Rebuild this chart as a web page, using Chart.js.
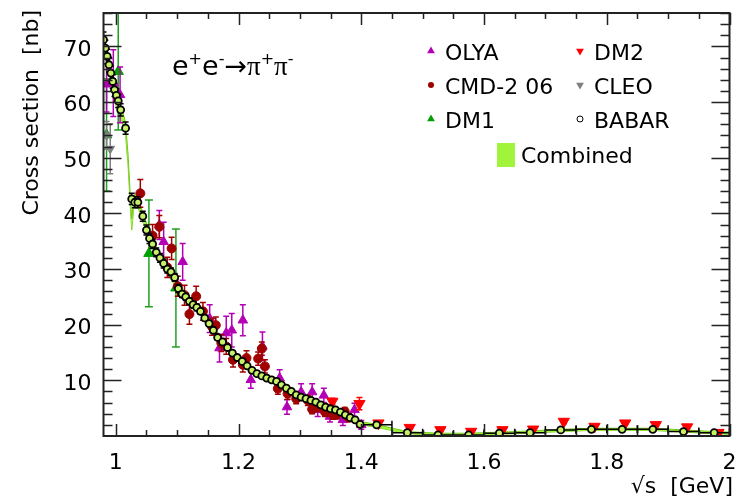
<!DOCTYPE html>
<html>
<head>
<meta charset="utf-8">
<title>e+e- -> pi+pi-</title>
<script src="https://cdn.jsdelivr.net/npm/chart.js@4.4.1/dist/chart.umd.min.js"></script>
<style>
	html, body { margin: 0; padding: 0; background: #fff; }
	#caixa { width: 737px; height: 499px; }
</style>
</head>
<body>
<div id="caixa"><canvas id="graficoSecaoChoque"></canvas></div>
<script>
// sqrt(s) em GeV, secao de choque em nb, erros simetricos em nb

var olyaX   = [0.985, 0.996, 1.007, 1.071, 1.078, 1.109, 1.153, 1.169, 1.180, 1.189, 1.207, 1.220, 1.239, 1.267, 1.279, 1.302, 1.320, 1.329, 1.339, 1.349, 1.370, 1.389, 1.400];
var olyaY   = [63.2, 63.4, 61.3, 37.9, 34.9, 31.3, 21.1, 15.8, 18.5, 19.0, 20.8, 10.1, 16.1, 10.4, 5.2, 7.9, 7.9, 4.7, 7.3, 3.5, 2.9, 4.7, 2.0];
var olyaErr = [5.0, 6.0, 5.0, 2.6, 3.5, 3.3, 2.5, 2.5, 3.0, 3.0, 2.8, 1.5, 2.6, 1.5, 1.3, 1.5, 1.5, 1.2, 1.3, 1.0, 1.0, 1.2, 0.8];

var cmdX   = [1.040, 1.060, 1.071, 1.084, 1.091, 1.101, 1.112, 1.120, 1.131, 1.142, 1.157, 1.163, 1.172, 1.180, 1.191, 1.207, 1.213, 1.232, 1.238, 1.243, 1.264, 1.280, 1.294, 1.313, 1.320, 1.329, 1.341, 1.354, 1.360, 1.373, 1.380];
var cmdY   = [43.6, 36.0, 37.6, 30.3, 33.7, 26.9, 25.3, 21.9, 25.1, 22.4, 19.6, 19.9, 16.7, 16.1, 13.7, 12.8, 14.0, 13.9, 15.7, 12.5, 8.5, 7.6, 6.7, 6.4, 4.8, 5.2, 4.3, 3.8, 3.8, 4.4, 3.3];
var cmdErr = [2.5, 2.0, 2.0, 1.8, 2.0, 1.8, 1.8, 1.8, 1.8, 1.6, 1.5, 1.5, 1.5, 1.4, 1.3, 1.3, 1.3, 1.2, 1.2, 1.2, 1.0, 1.0, 0.9, 0.9, 0.8, 0.8, 0.8, 0.8, 0.7, 0.7, 0.7];

var dm1X   = [0.985, 1.004, 1.054, 1.098];
var dm1Y   = [54.1, 65.5, 32.8, 26.6];
var dm1Err = [10.1, 10.5, 9.6, 10.6];

var dm2X   = [1.353, 1.397, 1.428, 1.479, 1.529, 1.579, 1.630, 1.680, 1.730, 1.780, 1.830, 1.880, 1.931, 1.982];
var dm2Y   = [6.2, 5.8, 2.3, 1.5, 1.1, 0.8, 1.1, 1.2, 2.6, 1.7, 2.3, 2.0, 1.6, 0.6];
var dm2Err = [0.6, 1.1, 0.4, 0.3, 0.3, 0.3, 0.3, 0.3, 0.4, 0.3, 0.3, 0.3, 0.3, 0.3];

var cleoX   = [0.985, 0.991];
var cleoY   = [54.0, 51.6];
var cleoErr = [2.5, 4.5];

var babarX = [0.980, 0.983, 0.986, 0.989, 0.992, 0.995, 0.998, 1.001, 1.004, 1.008, 1.016, 1.026, 1.031, 1.036, 1.044, 1.050, 1.055, 1.060, 1.066, 1.072,
	1.078, 1.084, 1.090, 1.096, 1.102, 1.108, 1.114, 1.120, 1.126, 1.132, 1.138, 1.145, 1.152, 1.159, 1.166, 1.174, 1.182, 1.190, 1.198, 1.206,
	1.214, 1.222, 1.230, 1.238, 1.246, 1.254, 1.262, 1.270, 1.278, 1.286, 1.294, 1.302, 1.310, 1.318, 1.326, 1.334, 1.342, 1.350, 1.358, 1.366,
	1.374, 1.382, 1.390, 1.398];
var babarY = [71.2, 69.7, 68.2, 66.7, 65.2, 63.7, 62.2, 61.2, 60.2, 58.6, 55.3, 42.6, 42.0, 42.0, 39.5, 37.0, 35.5, 34.5, 33.0, 32.0,
	31.0, 30.0, 29.5, 28.5, 26.5, 25.5, 25.0, 24.2, 23.6, 23.1, 22.4, 21.2, 20.2, 19.0, 17.7, 16.9, 15.9, 14.9, 14.1, 13.4,
	12.6, 11.8, 11.2, 10.8, 10.4, 10.1, 9.8, 9.2, 8.6, 8.0, 7.4, 7.0, 6.7, 6.4, 6.1, 5.6, 5.2, 4.9, 4.7, 4.3,
	3.8, 3.3, 2.9, 2.1];
var babarErr = [1.4, 1.4, 1.3, 1.3, 1.3, 1.2, 1.2, 1.2, 1.2, 1.1, 1.1, 1.0, 1.0, 1.0, 0.9, 0.9, 0.9, 0.8, 0.8, 0.8,
	0.8, 0.7, 0.7, 0.7, 0.7, 0.6, 0.6, 0.6, 0.6, 0.6, 0.5, 0.5, 0.5, 0.5, 0.5, 0.5, 0.4, 0.4, 0.4, 0.4,
	0.4, 0.4, 0.4, 0.4, 0.4, 0.3, 0.3, 0.3, 0.3, 0.3, 0.3, 0.3, 0.3, 0.3, 0.3, 0.3, 0.3, 0.3, 0.3, 0.3,
	0.3, 0.3, 0.3, 0.3];

// acima de 1.4 GeV o BABAR vem em bins de 50 MeV
var babarBinX   = [1.425, 1.475, 1.525, 1.575, 1.625, 1.675, 1.725, 1.775, 1.825, 1.875, 1.925, 1.975];
var babarBinY   = [2.0, 0.6, 0.2, 0.2, 0.5, 0.6, 1.1, 1.2, 1.2, 1.2, 0.8, 0.6];
var babarBinErr = [0.2, 0.15, 0.1, 0.1, 0.1, 0.1, 0.15, 0.15, 0.15, 0.15, 0.1, 0.1];
var babarBinMeio = 0.025;

// faixa da media combinada
var combX = [0.980, 0.990, 1.000, 1.010, 1.016, 1.020, 1.024, 1.026, 1.030, 1.036, 1.045, 1.060, 1.080, 1.100, 1.120, 1.140, 1.160, 1.180, 1.200, 1.220,
	1.240, 1.260, 1.280, 1.300, 1.320, 1.340, 1.360, 1.380, 1.400, 1.425, 1.475, 1.525, 1.575, 1.625, 1.675, 1.725, 1.775, 1.825, 1.875, 1.925, 1.975, 2.000];
var combY = [70.8, 65.6, 60.7, 57.7, 55.1, 49.6, 41.6, 38.0, 42.5, 42.0, 39.0, 34.5, 30.5, 27.0, 24.4, 22.0, 18.9, 16.2, 14.0, 12.0,
	10.6, 9.8, 8.5, 7.1, 6.3, 5.4, 4.6, 3.6, 2.3, 1.8, 0.6, 0.3, 0.3, 0.5, 0.7, 1.0, 1.2, 1.2, 1.2, 0.9, 0.6, 0.5];
var combLarg = [1.2, 1.2, 1.2, 1.2, 1.1, 1.0, 1.0, 1.0, 0.9, 0.9, 0.8, 0.8, 0.7, 0.6, 0.5, 0.5, 0.5, 0.5, 0.45, 0.45,
	0.4, 0.4, 0.4, 0.35, 0.35, 0.35, 0.3, 0.3, 0.3, 0.25, 0.2, 0.2, 0.2, 0.2, 0.2, 0.2, 0.2, 0.2, 0.2, 0.2, 0.2, 0.2];

var eixoXTicks = [1, 1.2, 1.4, 1.6, 1.8, 2];
var eixoYTicks = [10, 20, 30, 40, 50, 60, 70];

var Fisica = Fisica || {};

Fisica.GraficoSecaoChoque = (function() {

	var FONTE = "'DejaVu Sans', sans-serif";
	var VERDE_COMB = 'rgb(160,245,60)';

	function GraficoSecaoChoque() {
		this.ctx = document.getElementById('graficoSecaoChoque').getContext('2d');
	}

	function pontos(xs, ys) {
		return xs.map(function(x, i) { return { x: x, y: ys[i] }; });
	}

	function marcador(ctx, estilo, x, y, r) {
		ctx.beginPath();
		if (estilo === 'circle') {
			ctx.arc(x, y, r, 0, Math.PI * 2);
		} else {
			var s = estilo === 'down' ? -1 : 1;
			ctx.moveTo(x, y - s * r);
			ctx.lineTo(x + r * 0.866, y + s * r * 0.5);
			ctx.lineTo(x - r * 0.866, y + s * r * 0.5);
			ctx.closePath();
		}
	}

	// barras de erro desenhadas antes dos marcadores de cada serie
	var barrasErro = {
		id: 'barrasErro',
		beforeDatasetDraw: function(chart, args) {
			var ds = chart.data.datasets[args.index];
			if (!ds.erroY) return;
			var ctx = chart.ctx, a = chart.chartArea;
			var sx = chart.scales.x, sy = chart.scales.y;
			var cap = ds.capa || 3;
			ctx.save();
			ctx.beginPath();
			ctx.rect(a.left, a.top, a.right - a.left, a.bottom - a.top);
			ctx.clip();
			ctx.strokeStyle = ds.corErro;
			ctx.lineWidth = 1.5;
			ds.data.forEach(function(p, i) {
				var e = ds.erroY[i];
				var px = sx.getPixelForValue(p.x);
				var py = sy.getPixelForValue(p.y);
				var topo = sy.getPixelForValue(p.y + e);
				var base = sy.getPixelForValue(p.y - e);
				ctx.beginPath();
				ctx.moveTo(px, topo); ctx.lineTo(px, base);
				ctx.moveTo(px - cap, topo); ctx.lineTo(px + cap, topo);
				ctx.moveTo(px - cap, base); ctx.lineTo(px + cap, base);
				if (ds.erroX && ds.erroX[i]) {
					var esq = sx.getPixelForValue(p.x - ds.erroX[i]);
					var dir = sx.getPixelForValue(p.x + ds.erroX[i]);
					ctx.moveTo(esq, py); ctx.lineTo(dir, py);
					ctx.moveTo(esq, py - 4); ctx.lineTo(esq, py + 4);
					ctx.moveTo(dir, py - 4); ctx.lineTo(dir, py + 4);
				}
				ctx.stroke();
			});
			ctx.restore();
		}
	};

	// moldura com marcas para dentro, titulos e legenda
	var moldura = {
		id: 'moldura',
		afterDraw: function(chart) {
			var ctx = chart.ctx, a = chart.chartArea;
			var sx = chart.scales.x, sy = chart.scales.y;
			ctx.save();
			ctx.strokeStyle = '#222';
			ctx.lineWidth = 1.5;
			var k, v, p, L;
			for (k = 20; k <= 40; k++) {
				v = k * 0.05;
				if (v < sx.min || v > sx.max) continue;
				p = Math.round(sx.getPixelForValue(v)) + 0.5;
				L = k % 4 === 0 ? 12 : 6;
				ctx.beginPath();
				ctx.moveTo(p, a.bottom); ctx.lineTo(p, a.bottom - L);
				ctx.moveTo(p, a.top); ctx.lineTo(p, a.top + L);
				ctx.stroke();
			}
			for (k = 1; k <= 38; k++) {
				v = k * 2;
				if (v < sy.min || v > sy.max) continue;
				p = Math.round(sy.getPixelForValue(v)) + 0.5;
				L = v % 10 === 0 ? 18 : 9;
				ctx.beginPath();
				ctx.moveTo(a.left, p); ctx.lineTo(a.left + L, p);
				ctx.moveTo(a.right, p); ctx.lineTo(a.right - L, p);
				ctx.stroke();
			}
			ctx.lineWidth = 2;
			ctx.strokeRect(a.left, a.top, a.right - a.left, a.bottom - a.top);

			ctx.fillStyle = '#000';
			ctx.font = '22px ' + FONTE;
			ctx.textBaseline = 'alphabetic';
			ctx.textAlign = 'right';
			ctx.fillText('\u221As  [GeV]', 733, 493);
			ctx.save();
			ctx.translate(38, 10);
			ctx.rotate(-Math.PI / 2);
			ctx.fillText('Cross section  [nb]', 0, 0);
			ctx.restore();

			// e+e- -> pi+pi-
			ctx.textAlign = 'left';
			var grande = '27px ' + FONTE, serif = "27px 'Liberation Serif', serif", sup = '16px ' + FONTE;
			var partes = [
				{ t: 'e', f: grande }, { t: '+', f: sup, dy: -11 }, { t: 'e', f: grande }, { t: '-', f: sup, dy: -11 },
				{ t: '\u2192', f: grande }, { t: '\u03C0', f: serif }, { t: '+', f: sup, dy: -11 },
				{ t: '\u03C0', f: serif }, { t: '-', f: sup, dy: -11 }
			];
			var x = 172;
			partes.forEach(function(q) {
				ctx.font = q.f;
				ctx.fillText(q.t, x, 75 + (q.dy || 0));
				x += ctx.measureText(q.t).width;
			});

			// legenda em duas colunas
			var itens = [
				{ t: 'OLYA', c: '#b400b4', m: 'up', x: 431, y: 51 },
				{ t: 'CMD-2 06', c: '#a00000', m: 'circle', x: 431, y: 85 },
				{ t: 'DM1', c: '#00a000', m: 'up', x: 431, y: 119 },
				{ t: 'DM2', c: '#ff0000', m: 'down', x: 580, y: 51 },
				{ t: 'CLEO', c: '#808080', m: 'down', x: 580, y: 85 },
				{ t: 'BABAR', c: '#000', m: 'circle', x: 580, y: 119, vazio: true }
			];
			ctx.font = '22px ' + FONTE;
			itens.forEach(function(it) {
				marcador(ctx, it.m, it.x, it.y, it.m === 'circle' ? 3 : 4.5);
				if (it.vazio) {
					ctx.fillStyle = '#fff'; ctx.fill();
					ctx.strokeStyle = it.c; ctx.lineWidth = 1; ctx.stroke();
				} else {
					ctx.fillStyle = it.c; ctx.fill();
				}
				ctx.fillStyle = '#000';
				ctx.fillText(it.t, it.x + 14, it.y + 9);
			});
			ctx.fillStyle = VERDE_COMB;
			ctx.fillRect(497, 143, 18, 24);
			ctx.fillStyle = '#000';
			ctx.fillText('Combined', 521, 163);
			ctx.restore();
		}
	};

	function serie(rotulo, xs, ys, erros, opc) {
		return Object.assign({
			label: rotulo,
			data: pontos(xs, ys),
			erroY: erros,
			showLine: false,
			borderWidth: 1
		}, opc);
	}

	GraficoSecaoChoque.prototype.iniciar = function() {
		var baixo = combY.map(function(y, i) { return y - combLarg[i]; });
		var alto = combY.map(function(y, i) { return y + combLarg[i]; });

		var babarTodos = pontos(babarX.concat(babarBinX), babarY.concat(babarBinY));
		var babarErros = babarErr.concat(babarBinErr);
		var babarLarg = babarX.map(function() { return 0; }).concat(babarBinX.map(function() { return babarBinMeio; }));

		this.grafico = new Chart(this.ctx, {
			type: 'scatter',
			data: {
				datasets: [
					{ label: 'Combined', data: pontos(combX, baixo), showLine: true, pointRadius: 0, borderColor: 'rgb(120,200,30)', borderWidth: 1, fill: false, order: 20 },
					{ label: 'Combined', data: pontos(combX, alto), showLine: true, pointRadius: 0, borderColor: 'rgb(120,200,30)', borderWidth: 1, backgroundColor: VERDE_COMB, fill: '-1', order: 19 },
					serie('OLYA', olyaX, olyaY, olyaErr, { pointStyle: 'triangle', pointRadius: 5.5, backgroundColor: '#b400b4', borderColor: '#b400b4', corErro: '#b400b4', order: 8 }),
					serie('CMD-2 06', cmdX, cmdY, cmdErr, { pointStyle: 'circle', pointRadius: 4.5, backgroundColor: '#a00000', borderColor: '#a00000', corErro: '#a00000', order: 7 }),
					serie('DM1', dm1X, dm1Y, dm1Err, { pointStyle: 'triangle', pointRadius: 6, backgroundColor: '#00a000', borderColor: '#00a000', corErro: '#20a020', capa: 4, order: 9 }),
					serie('DM2', dm2X, dm2Y, dm2Err, { pointStyle: 'triangle', rotation: 180, pointRadius: 6.5, backgroundColor: '#ff0000', borderColor: '#ff0000', corErro: '#ff0000', order: 6 }),
					serie('CLEO', cleoX, cleoY, cleoErr, { pointStyle: 'triangle', rotation: 180, pointRadius: 5, backgroundColor: '#808080', borderColor: '#808080', corErro: '#808080', order: 6 }),
					{ label: 'BABAR', data: babarTodos, erroY: babarErros, erroX: babarLarg, corErro: '#000', showLine: false,
						pointStyle: 'circle', pointRadius: 3.5, borderWidth: 1.8, borderColor: '#000', backgroundColor: 'rgb(200,240,100)', order: 5 }
				]
			},
			options: {
				responsive: true,
				maintainAspectRatio: false,
				animation: false,
				events: [],
				layout: { padding: { top: 13, right: 4, left: 0, bottom: 0 } },
				plugins: { legend: { display: false }, tooltip: { enabled: false } },
				scales: {
					x: {
						type: 'linear', min: 0.98, max: 2.0,
						grid: { display: false }, border: { display: false },
						afterBuildTicks: function(s) { s.ticks = eixoXTicks.map(function(v) { return { value: v }; }); },
						afterFit: function(s) { s.height = 63; s.paddingLeft = 0; s.paddingRight = 0; },
						ticks: { font: { family: FONTE, size: 22 }, color: '#000', padding: 6, maxRotation: 0, autoSkip: false,
							callback: function(v) { return String(v); } }
					},
					y: {
						type: 'linear', min: 0, max: 76,
						grid: { display: false }, border: { display: false },
						afterBuildTicks: function(s) { s.ticks = eixoYTicks.map(function(v) { return { value: v }; }); },
						afterFit: function(s) { s.width = 103.5; s.paddingTop = 0; s.paddingBottom = 0; },
						ticks: { font: { family: FONTE, size: 22 }, color: '#000', padding: 4, labelOffset: 3.5, autoSkip: false }
					}
				}
			},
			plugins: [barrasErro, moldura]
		});
	};

	return GraficoSecaoChoque;

}());

var graficoSecaoChoque = new Fisica.GraficoSecaoChoque();
graficoSecaoChoque.iniciar();
</script>
</body>
</html>
